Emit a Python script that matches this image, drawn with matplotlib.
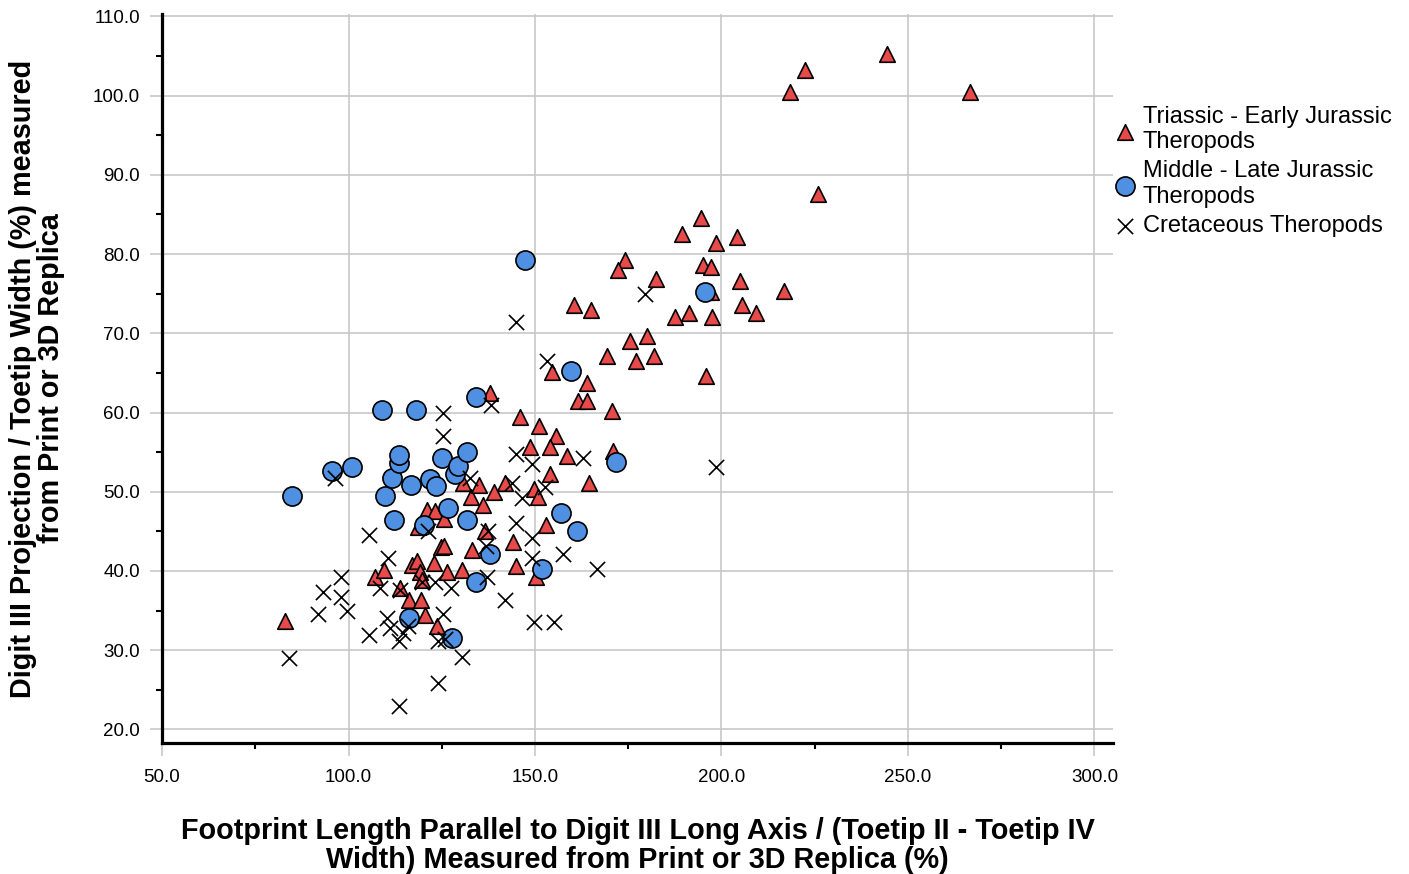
import matplotlib
matplotlib.use("Agg")
import matplotlib.pyplot as plt
from matplotlib.ticker import MultipleLocator, FormatStrFormatter

plt.rcParams['font.family'] = ['Liberation Sans', 'DejaVu Sans']

# Triassic - Early Jurassic theropods
tri_x = [244.5, 222.4, 218.3, 266.6, 225.8, 194.5, 189.3, 204.1, 198.6, 174.0,
         172.3, 195.0, 197.1, 182.4, 204.9, 216.7, 197.1, 160.5, 165.0, 205.6,
         209.2, 187.5, 191.4, 197.4, 175.5, 180.0, 169.4, 177.1, 182.0, 195.9,
         164.0, 161.4, 164.0, 170.6, 171.0, 164.5, 158.6, 138.0, 154.5, 146.0,
         151.1, 155.6, 148.7, 154.1, 83.0, 107.1, 109.4, 113.9, 116.1, 119.5,
         120.6, 123.7, 117.0, 118.3, 119.2, 119.7, 122.8, 126.4, 130.4, 124.8,
         125.6, 133.1, 121.0, 123.2, 125.5, 118.7, 132.8, 130.7, 135.1, 136.0,
         138.9, 142.0, 136.6, 144.2, 144.9, 150.3, 149.6, 150.9, 153.0, 154.1]
tri_y = [105.2, 103.2, 100.4, 100.4, 87.6, 84.5, 82.5, 82.2, 81.4, 79.3,
         78.0, 78.6, 78.4, 76.9, 76.6, 75.3, 75.2, 73.6, 72.9, 73.6,
         72.6, 72.1, 72.5, 72.0, 69.0, 69.6, 67.1, 66.5, 67.1, 64.6,
         63.7, 61.5, 61.5, 60.2, 55.2, 51.1, 54.5, 62.4, 65.1, 59.4,
         58.3, 57.0, 55.6, 55.6, 33.7, 39.2, 40.1, 37.8, 36.3, 36.3,
         34.4, 33.1, 40.7, 41.3, 39.9, 38.9, 41.0, 39.9, 40.1, 43.0,
         43.2, 42.6, 47.7, 47.6, 46.6, 45.5, 49.3, 51.1, 50.8, 48.3,
         50.0, 51.1, 45.1, 43.6, 40.6, 39.2, 50.4, 49.3, 45.8, 52.3]

# Middle - Late Jurassic theropods
mid_x = [84.9, 95.6, 101.0, 109.0, 118.1, 109.8, 111.7, 113.6, 113.6, 112.2,
         116.8, 120.3, 121.9, 123.5, 125.1, 126.7, 128.6, 129.4, 131.8, 131.8,
         134.2, 138.0, 134.2, 127.8, 116.3, 147.4, 151.9, 157.0, 161.3, 159.7,
         171.8, 195.6]
mid_y = [49.4, 52.6, 53.1, 60.3, 60.3, 49.4, 51.7, 53.6, 54.6, 46.4,
         50.8, 45.8, 51.6, 50.7, 54.3, 48.0, 52.2, 53.3, 55.0, 46.4,
         62.0, 42.2, 38.6, 31.6, 34.1, 79.3, 40.2, 47.3, 45.1, 65.3,
         53.8, 75.2]

# Cretaceous theropods
cre_x = [84.1, 91.7, 93.2, 97.9, 98.0, 99.7, 105.5, 105.5, 96.4, 108.5,
         110.6, 110.4, 111.2, 113.6, 114.7, 116.0, 113.6, 121.3, 119.7, 123.2,
         125.4, 125.4, 125.4, 124.0, 125.9, 130.5, 124.0, 127.5, 132.6, 138.2,
         136.9, 137.4, 137.2, 142.0, 143.9, 144.9, 144.9, 146.6, 149.2, 149.2,
         149.2, 152.7, 149.8, 155.1, 157.5, 162.9, 166.6, 144.9, 153.2, 179.5,
         198.5, 113.9]
cre_y = [29.0, 34.6, 37.4, 39.2, 36.7, 34.9, 31.9, 44.5, 51.7, 37.9,
         41.7, 34.1, 32.8, 31.2, 32.2, 33.1, 23.0, 45.1, 38.6, 38.6,
         59.9, 57.0, 34.6, 31.1, 31.4, 29.1, 25.8, 37.9, 51.7, 61.0,
         43.1, 45.0, 39.2, 36.3, 51.1, 54.8, 46.0, 49.2, 53.5, 44.2,
         41.6, 50.6, 33.5, 33.5, 42.2, 54.2, 40.3, 71.4, 66.5, 74.9,
         53.1, 37.6]

labels = ["Triassic - Early Jurassic\nTheropods",
          "Middle - Late Jurassic\nTheropods",
          "Cretaceous Theropods"]

fig = plt.figure(figsize=(14.09, 8.74), dpi=100)
ax = fig.add_axes([0.115, 0.15, 0.675, 0.834])

ax.scatter(tri_x, tri_y, marker='^', s=125, c='#e84a4a', edgecolors='black',
           linewidths=1.2, zorder=3, label=labels[0])
ax.scatter(mid_x, mid_y, marker='o', s=190, c='#4f90e2', edgecolors='black',
           linewidths=1.2, zorder=4, label=labels[1])
ax.scatter(cre_x, cre_y, marker='x', s=120, c='black', linewidths=1.2,
           zorder=5, label=labels[2])

ax.set_xlim(50, 305)
ax.set_ylim(18.3, 110.3)

ax.xaxis.set_major_locator(MultipleLocator(50))
ax.xaxis.set_minor_locator(MultipleLocator(25))
ax.yaxis.set_major_locator(MultipleLocator(10))
ax.yaxis.set_minor_locator(MultipleLocator(5))
ax.xaxis.set_major_formatter(FormatStrFormatter('%.1f'))
ax.yaxis.set_major_formatter(FormatStrFormatter('%.1f'))

ax.grid(True, which='major', color='#c8c8c8', linewidth=1.2, zorder=0)
ax.set_axisbelow(True)

for side in ['top', 'right']:
    ax.spines[side].set_visible(False)
for side in ['left', 'bottom']:
    ax.spines[side].set_linewidth(2.3)

ax.tick_params(which='major', direction='out', color='#c8c8c8', length=9,
               width=1.2, labelsize=13.5, pad=7)
ax.tick_params(axis='x', which='major', pad=10)
ax.tick_params(which='minor', direction='out', color='black', length=4,
               width=1.5)

ax.set_xlabel("Footprint Length Parallel to Digit III Long Axis / (Toetip II - Toetip IV\n"
              "Width) Measured from Print or 3D Replica (%)",
              fontsize=20.8, fontweight='bold', labelpad=22, linespacing=1.04)
ax.set_ylabel("Digit III Projection / Toetip Width (%) measured\n"
              "from Print or 3D Replica",
              fontsize=20.8, fontweight='bold', labelpad=20, linespacing=1.0)

ax.legend(loc='upper left', bbox_to_anchor=(1.0, 0.877), frameon=False,
          fontsize=17, handletextpad=0.35, labelspacing=0.3,
          borderaxespad=0.0, borderpad=0.1, handlelength=0.8)

fig.savefig("out.png", dpi=100)
